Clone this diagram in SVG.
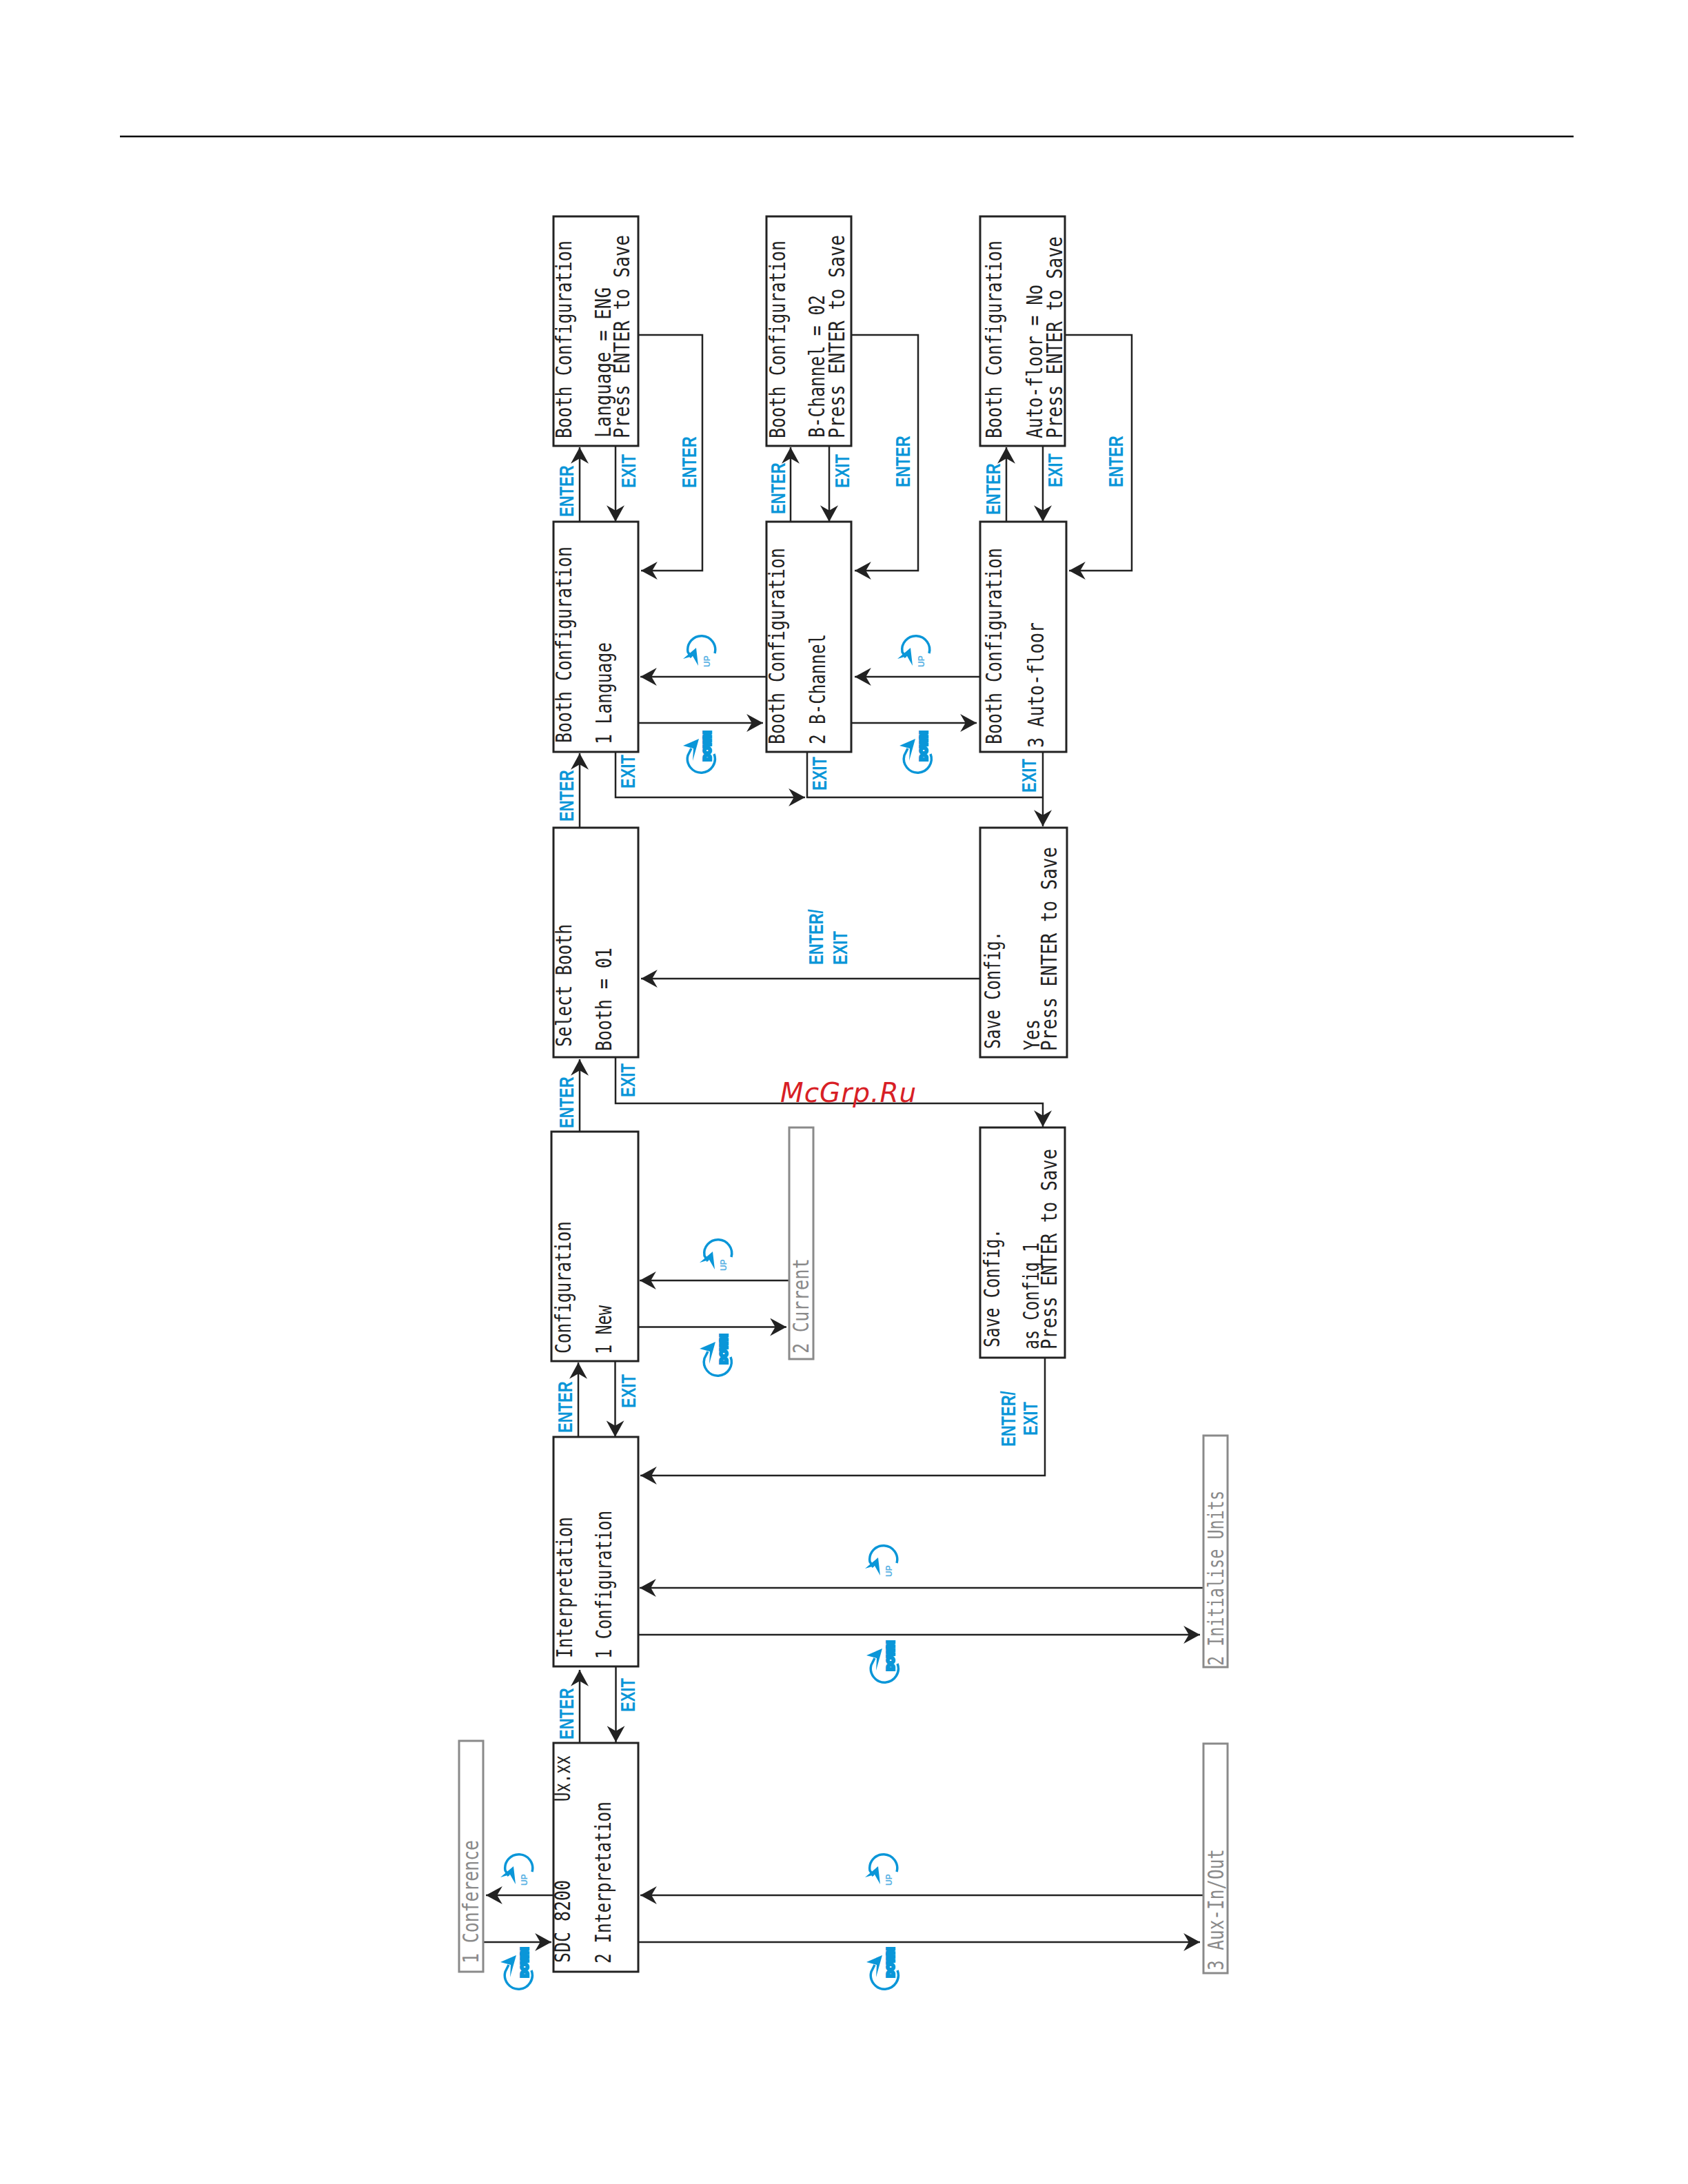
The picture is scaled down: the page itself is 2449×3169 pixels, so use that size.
<svg xmlns="http://www.w3.org/2000/svg" xmlns:xlink="http://www.w3.org/1999/xlink" width="2449" height="3169" viewBox="0 0 2449 3169">
<style>
.box{fill:#fff;stroke:#222;stroke-width:3}
.gbox{fill:#fff;stroke:#8a8a8a;stroke-width:3}
.lcd{font-family:"DejaVu Sans Mono","Liberation Mono",monospace;font-size:25px;fill:#222}
.glcd{font-family:"DejaVu Sans Mono","Liberation Mono",monospace;font-size:25px;fill:#8a8a8a}
.lbl{font-family:"Liberation Sans",Arial,sans-serif;font-weight:bold;font-size:22px;fill:#0a96d8}
.con{fill:none;stroke:#222;stroke-width:2.5}
.arc{fill:none;stroke:#0a96d8;stroke-width:3.5}
.head{fill:#0a96d8}
.up{font-family:"Liberation Sans",Arial,sans-serif;font-weight:bold;font-size:12px;fill:#5cb3e4}
.down{font-family:"Liberation Sans",Arial,sans-serif;font-weight:bold;font-size:15px;fill:#0a96d8;stroke:#0a96d8;stroke-width:4}
.wm{font-family:"DejaVu Sans",sans-serif;font-style:italic;font-size:39px;letter-spacing:1px;fill:#d81f26}
</style>
<defs>
<marker id="ah" markerUnits="userSpaceOnUse" markerWidth="24" markerHeight="26" refX="22" refY="12" orient="auto" viewBox="0 0 22 24"><polygon points="22,12 0,0 7,12 0,24" fill="#222"/></marker>
<g id="iconUp">
<path class="arc" d="M20,8 A20,20 0 1 0 -19,6 L-14,14"/>
<polygon class="head" points="-26,16 -7,0 -4,26 -12,12"/>
<text class="up" transform="translate(13,28) rotate(-90)">UP</text>
</g>
<g id="iconDown">
<path class="arc" d="M19,-6 A20,20 0 1 1 -19,-4 L-14,-14"/>
<polygon class="head" points="-26,-18 -3,-28 -12,4 -11,-14"/>
<text class="down" textLength="43" lengthAdjust="spacingAndGlyphs" transform="translate(14,4) rotate(-90)">DOWN</text>
</g>
</defs>
<rect width="2449" height="3169" fill="#fff"/>
<line id="header-rule" x1="174" y1="198" x2="2283" y2="198" stroke="#000" stroke-width="2.5"/>

<g id="connectors">
<path class="con" marker-end="url(#ah)" d="M841 2528V2423"/>
<path class="con" marker-end="url(#ah)" d="M893.5 2418V2528"/>
<path class="con" marker-end="url(#ah)" d="M839 2085V1977"/>
<path class="con" marker-end="url(#ah)" d="M892.5 1975V2085"/>
<path class="con" marker-end="url(#ah)" d="M841 1642V1537"/>
<path class="con" marker-end="url(#ah)" d="M841 1201V1093"/>
<path class="con" marker-end="url(#ah)" d="M841 757V649"/>
<path class="con" marker-end="url(#ah)" d="M893 647V757"/>
<path class="con" marker-end="url(#ah)" d="M1147 757V649"/>
<path class="con" marker-end="url(#ah)" d="M1203 647V757"/>
<path class="con" marker-end="url(#ah)" d="M1460 757V649"/>
<path class="con" marker-end="url(#ah)" d="M1513 647V757"/>
<path class="con" marker-end="url(#ah)" d="M926 486H1019V828H930"/>
<path class="con" marker-end="url(#ah)" d="M1235 486H1332V828H1240"/>
<path class="con" marker-end="url(#ah)" d="M1545 486H1642V828H1551"/>
<path class="con" marker-end="url(#ah)" d="M1112 982H929"/>
<path class="con" marker-end="url(#ah)" d="M926 1049H1107"/>
<path class="con" marker-end="url(#ah)" d="M1422 982H1240"/>
<path class="con" marker-end="url(#ah)" d="M1235 1049H1417"/>
<path class="con" marker-end="url(#ah)" d="M893 1091V1157H1168"/>
<path class="con" d="M1171 1091V1157H1513"/>
<path class="con" marker-end="url(#ah)" d="M1513 1091V1199"/>
<path class="con" marker-end="url(#ah)" d="M893 1534V1601H1513V1635"/>
<path class="con" marker-end="url(#ah)" d="M1422 1420H930"/>
<path class="con" marker-end="url(#ah)" d="M1145 1858H928"/>
<path class="con" marker-end="url(#ah)" d="M926 1925.500H1141"/>
<path class="con" marker-end="url(#ah)" d="M1516 1970V2141H929"/>
<path class="con" marker-end="url(#ah)" d="M1746 2304H928"/>
<path class="con" marker-end="url(#ah)" d="M926 2372H1741"/>
<path class="con" marker-end="url(#ah)" d="M1746 2750H929"/>
<path class="con" marker-end="url(#ah)" d="M926 2818H1741"/>
<path class="con" marker-end="url(#ah)" d="M803 2750H705"/>
<path class="con" marker-end="url(#ah)" d="M701 2818H800"/>
</g>

<g id="node-language-value">
<rect class="box" x="803" y="314" width="123" height="333"/>
<text class="lcd" textLength="287" lengthAdjust="spacingAndGlyphs" transform="translate(829,636) rotate(-90) scale(1,1.25)">Booth Configuration</text>
<text class="lcd" textLength="218" lengthAdjust="spacingAndGlyphs" transform="translate(886,635) rotate(-90) scale(1,1.25)">Language = ENG</text>
<text class="lcd" textLength="295" lengthAdjust="spacingAndGlyphs" transform="translate(913,636) rotate(-90) scale(1,1.25)">Press ENTER to Save</text>
</g>
<g id="node-bchannel-value">
<rect class="box" x="1112" y="314" width="123" height="333"/>
<text class="lcd" textLength="287" lengthAdjust="spacingAndGlyphs" transform="translate(1139,636) rotate(-90) scale(1,1.25)">Booth Configuration</text>
<text class="lcd" textLength="207" lengthAdjust="spacingAndGlyphs" transform="translate(1196,635) rotate(-90) scale(1,1.25)">B-Channel = 02</text>
<text class="lcd" textLength="295" lengthAdjust="spacingAndGlyphs" transform="translate(1225,636) rotate(-90) scale(1,1.25)">Press ENTER to Save</text>
</g>
<g id="node-autofloor-value">
<rect class="box" x="1422" y="314" width="123" height="333"/>
<text class="lcd" textLength="287" lengthAdjust="spacingAndGlyphs" transform="translate(1453,636) rotate(-90) scale(1,1.25)">Booth Configuration</text>
<text class="lcd" textLength="223" lengthAdjust="spacingAndGlyphs" transform="translate(1512,636) rotate(-90) scale(1,1.25)">Auto-floor = No</text>
<text class="lcd" textLength="293" lengthAdjust="spacingAndGlyphs" transform="translate(1541,636) rotate(-90) scale(1,1.25)">Press ENTER to Save</text>
</g>
<g id="node-menu-language">
<rect class="box" x="803" y="757" width="123" height="334"/>
<text class="lcd" textLength="285" lengthAdjust="spacingAndGlyphs" transform="translate(829,1078) rotate(-90) scale(1,1.25)">Booth Configuration</text>
<text class="lcd" textLength="148" lengthAdjust="spacingAndGlyphs" transform="translate(887,1080) rotate(-90) scale(1,1.25)">1 Language</text>
</g>
<g id="node-menu-bchannel">
<rect class="box" x="1112" y="757" width="123" height="334"/>
<text class="lcd" textLength="285" lengthAdjust="spacingAndGlyphs" transform="translate(1138,1080) rotate(-90) scale(1,1.25)">Booth Configuration</text>
<text class="lcd" textLength="160" lengthAdjust="spacingAndGlyphs" transform="translate(1197,1080) rotate(-90) scale(1,1.25)">2 B-Channel</text>
</g>
<g id="node-menu-autofloor">
<rect class="box" x="1422" y="757" width="125" height="334"/>
<text class="lcd" textLength="285" lengthAdjust="spacingAndGlyphs" transform="translate(1453,1080) rotate(-90) scale(1,1.25)">Booth Configuration</text>
<text class="lcd" textLength="182" lengthAdjust="spacingAndGlyphs" transform="translate(1514,1085) rotate(-90) scale(1,1.25)">3 Auto-floor</text>
</g>
<g id="node-select-booth">
<rect class="box" x="803" y="1201" width="123" height="333"/>
<text class="lcd" textLength="178" lengthAdjust="spacingAndGlyphs" transform="translate(829,1519) rotate(-90) scale(1,1.25)">Select Booth</text>
<text class="lcd" textLength="150" lengthAdjust="spacingAndGlyphs" transform="translate(887,1525) rotate(-90) scale(1,1.25)">Booth = 01</text>
</g>
<g id="node-save-yes">
<rect class="box" x="1422" y="1201" width="126" height="333"/>
<text class="lcd" textLength="171" lengthAdjust="spacingAndGlyphs" transform="translate(1451,1522) rotate(-90) scale(1,1.25)">Save Config.</text>
<text class="lcd" textLength="45" lengthAdjust="spacingAndGlyphs" transform="translate(1508,1524) rotate(-90) scale(1,1.25)">Yes</text>
<text class="lcd" textLength="296" lengthAdjust="spacingAndGlyphs" transform="translate(1533,1525) rotate(-90) scale(1,1.25)">Press ENTER to Save</text>
</g>
<g id="node-configuration">
<rect class="box" x="800" y="1642" width="126" height="333"/>
<text class="lcd" textLength="192" lengthAdjust="spacingAndGlyphs" transform="translate(828,1964) rotate(-90) scale(1,1.25)">Configuration</text>
<text class="lcd" textLength="71" lengthAdjust="spacingAndGlyphs" transform="translate(887,1965) rotate(-90) scale(1,1.25)">1 New</text>
</g>
<g id="node-current">
<rect class="gbox" x="1145" y="1636" width="35" height="336"/>
<text class="glcd" textLength="138" lengthAdjust="spacingAndGlyphs" transform="translate(1173,1964) rotate(-90) scale(1,1.25)">2 Current</text>
</g>
<g id="node-save-config1">
<rect class="box" x="1422" y="1636" width="123" height="334"/>
<text class="lcd" textLength="172" lengthAdjust="spacingAndGlyphs" transform="translate(1450,1955) rotate(-90) scale(1,1.25)">Save Config.</text>
<text class="lcd" textLength="155" lengthAdjust="spacingAndGlyphs" transform="translate(1507,1958) rotate(-90) scale(1,1.25)">as Config 1</text>
<text class="lcd" textLength="291" lengthAdjust="spacingAndGlyphs" transform="translate(1533,1958) rotate(-90) scale(1,1.25)">Press ENTER to Save</text>
</g>
<g id="node-interpretation">
<rect class="box" x="803" y="2085" width="123" height="333"/>
<text class="lcd" textLength="205" lengthAdjust="spacingAndGlyphs" transform="translate(830,2406) rotate(-90) scale(1,1.25)">Interpretation</text>
<text class="lcd" textLength="215" lengthAdjust="spacingAndGlyphs" transform="translate(887,2407) rotate(-90) scale(1,1.25)">1 Configuration</text>
</g>
<g id="node-initialise">
<rect class="gbox" x="1746" y="2083" width="35" height="336"/>
<text class="glcd" textLength="254" lengthAdjust="spacingAndGlyphs" transform="translate(1775,2417) rotate(-90) scale(1,1.25)">2 Initialise Units</text>
</g>
<g id="node-sdc">
<rect class="box" x="803" y="2529" width="123" height="332"/>
<text class="lcd" textLength="120" lengthAdjust="spacingAndGlyphs" transform="translate(827,2848) rotate(-90) scale(1,1.25)">SDC 8200</text>
<text class="lcd" textLength="67" lengthAdjust="spacingAndGlyphs" transform="translate(827,2614) rotate(-90) scale(1,1.25)">Ux.xx</text>
<text class="lcd" textLength="235" lengthAdjust="spacingAndGlyphs" transform="translate(886,2849) rotate(-90) scale(1,1.25)">2 Interpretation</text>
</g>
<g id="node-aux">
<rect class="gbox" x="1746" y="2530" width="35" height="333"/>
<text class="glcd" textLength="176" lengthAdjust="spacingAndGlyphs" transform="translate(1775,2859) rotate(-90) scale(1,1.25)">3 Aux-In/Out</text>
</g>
<g id="node-conference">
<rect class="gbox" x="666" y="2526" width="35" height="335"/>
<text class="glcd" textLength="179" lengthAdjust="spacingAndGlyphs" transform="translate(694,2849) rotate(-90) scale(1,1.25)">1 Conference</text>
</g>

<g id="connector-labels">
<text class="lbl" transform="translate(832,750) rotate(-90) scale(1,1.33)">ENTER</text>
<text class="lbl" transform="translate(922,708) rotate(-90) scale(1,1.33)">EXIT</text>
<text class="lbl" transform="translate(1010,708) rotate(-90) scale(1,1.33)">ENTER</text>
<text class="lbl" transform="translate(1139,746) rotate(-90) scale(1,1.33)">ENTER</text>
<text class="lbl" transform="translate(1232,708) rotate(-90) scale(1,1.33)">EXIT</text>
<text class="lbl" transform="translate(1320,707) rotate(-90) scale(1,1.33)">ENTER</text>
<text class="lbl" transform="translate(1451,747) rotate(-90) scale(1,1.33)">ENTER</text>
<text class="lbl" transform="translate(1541,707) rotate(-90) scale(1,1.33)">EXIT</text>
<text class="lbl" transform="translate(1629,707) rotate(-90) scale(1,1.33)">ENTER</text>
<text class="lbl" transform="translate(832,1192) rotate(-90) scale(1,1.33)">ENTER</text>
<text class="lbl" transform="translate(921,1144) rotate(-90) scale(1,1.33)">EXIT</text>
<text class="lbl" transform="translate(1199,1147) rotate(-90) scale(1,1.33)">EXIT</text>
<text class="lbl" transform="translate(1503,1150) rotate(-90) scale(1,1.33)">EXIT</text>
<text class="lbl" transform="translate(832,1637) rotate(-90) scale(1,1.33)">ENTER</text>
<text class="lbl" transform="translate(921,1592) rotate(-90) scale(1,1.33)">EXIT</text>
<text class="lbl" transform="translate(1194,1400) rotate(-90) scale(1,1.33)">ENTER/</text>
<text class="lbl" transform="translate(1229,1400) rotate(-90) scale(1,1.33)">EXIT</text>
<text class="lbl" transform="translate(830,2079) rotate(-90) scale(1,1.33)">ENTER</text>
<text class="lbl" transform="translate(922,2043) rotate(-90) scale(1,1.33)">EXIT</text>
<text class="lbl" transform="translate(1473,2099) rotate(-90) scale(1,1.33)">ENTER/</text>
<text class="lbl" transform="translate(1505,2083) rotate(-90) scale(1,1.33)">EXIT</text>
<text class="lbl" transform="translate(832,2524) rotate(-90) scale(1,1.33)">ENTER</text>
<text class="lbl" transform="translate(921,2484) rotate(-90) scale(1,1.33)">EXIT</text>
</g>

<g id="rotary-icons">
<use xlink:href="#iconUp" x="1017" y="940"/>
<use xlink:href="#iconDown" x="1017" y="1100"/>
<use xlink:href="#iconUp" x="1328" y="940"/>
<use xlink:href="#iconDown" x="1331" y="1100"/>
<use xlink:href="#iconUp" x="1041" y="1816"/>
<use xlink:href="#iconDown" x="1041" y="1975"/>
<use xlink:href="#iconUp" x="1281" y="2260"/>
<use xlink:href="#iconDown" x="1283" y="2420"/>
<use xlink:href="#iconUp" x="1281" y="2708"/>
<use xlink:href="#iconDown" x="1283" y="2865"/>
<use xlink:href="#iconUp" x="752" y="2708"/>
<use xlink:href="#iconDown" x="752" y="2865"/>
</g>

<text class="wm" x="1132" y="1599">McGrp.Ru</text>
</svg>
